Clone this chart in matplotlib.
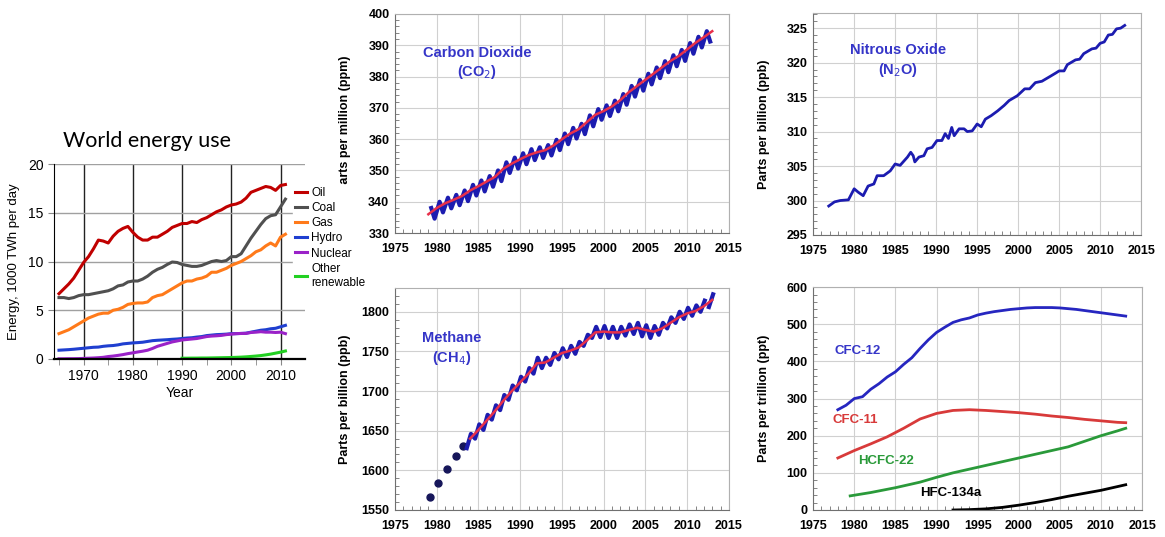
import numpy as np
import matplotlib
matplotlib.use('Agg')
import matplotlib.pyplot as plt
from matplotlib.ticker import MultipleLocator

plt.rcParams['font.family'] = ['Liberation Sans', 'DejaVu Sans']

# World energy use (1000 TWh per day), annual 1965-2011
energy_years = np.arange(1965, 2012)
oil = [6.7, 7.2, 7.7, 8.3, 9.1, 9.9, 10.5, 11.3, 12.2, 12.1, 11.9, 12.6, 13.1, 13.4, 13.6,
       13.0, 12.5, 12.2, 12.2, 12.5, 12.5, 12.8, 13.1, 13.5, 13.7, 13.9, 13.9, 14.1, 14.0, 14.3,
       14.5, 14.8, 15.1, 15.3, 15.6, 15.8, 15.9, 16.1, 16.5, 17.1, 17.3, 17.5, 17.7, 17.6, 17.3,
       17.8, 17.9]
coal = [6.3, 6.3, 6.2, 6.3, 6.5, 6.6, 6.6, 6.7, 6.8, 6.9, 7.0, 7.2, 7.5, 7.6, 7.9,
        8.0, 8.0, 8.2, 8.5, 8.9, 9.2, 9.4, 9.7, 9.95, 9.9, 9.7, 9.6, 9.5, 9.5, 9.6,
        9.8, 10.0, 10.1, 10.0, 10.1, 10.5, 10.5, 10.8, 11.6, 12.4, 13.1, 13.8, 14.4, 14.7, 14.8,
        15.6, 16.4]
gas = [2.6, 2.8, 3.0, 3.3, 3.6, 3.9, 4.2, 4.4, 4.6, 4.7, 4.7, 5.0, 5.1, 5.3, 5.6,
       5.7, 5.75, 5.75, 5.85, 6.3, 6.5, 6.6, 6.9, 7.2, 7.5, 7.8, 8.0, 8.0, 8.2, 8.3,
       8.5, 8.9, 8.9, 9.1, 9.3, 9.6, 9.8, 10.0, 10.3, 10.6, 11.0, 11.2, 11.6, 11.9, 11.6,
       12.5, 12.8]
hydro = [0.9, 0.93, 0.96, 1.0, 1.05, 1.1, 1.15, 1.2, 1.22, 1.3, 1.35, 1.38, 1.45, 1.55, 1.6,
         1.65, 1.68, 1.72, 1.8, 1.88, 1.92, 1.95, 1.98, 2.02, 2.05, 2.1, 2.15, 2.18, 2.25, 2.3,
         2.4, 2.45, 2.5, 2.52, 2.55, 2.6, 2.6, 2.62, 2.65, 2.75, 2.85, 2.95, 3.0, 3.1, 3.15,
         3.3, 3.45]
nuclear = [0.02, 0.02, 0.03, 0.03, 0.04, 0.06, 0.08, 0.1, 0.13, 0.17, 0.25, 0.3, 0.37, 0.45, 0.55,
           0.63, 0.72, 0.8, 0.9, 1.08, 1.3, 1.45, 1.6, 1.75, 1.85, 1.95, 2.0, 2.05, 2.1, 2.2,
           2.3, 2.35, 2.38, 2.42, 2.5, 2.55, 2.6, 2.62, 2.62, 2.72, 2.75, 2.8, 2.75, 2.75, 2.72,
           2.75, 2.6]
renew_years = np.arange(1990, 2012)
renewable = [0.08, 0.08, 0.09, 0.09, 0.1, 0.1, 0.11, 0.12, 0.13, 0.14, 0.15, 0.17, 0.19, 0.22,
             0.26, 0.3, 0.35, 0.42, 0.5, 0.6, 0.7, 0.82]

# CO2 (ppm): trend at start of each year, seasonal peaks/troughs
co2_years = np.arange(1979, 2014)
co2_trend = [336.0, 338.0, 339.5, 340.6, 341.8, 343.6, 345.0, 346.5, 348.0, 350.6, 352.2, 353.6,
             354.9, 355.8, 356.5, 358.0, 360.0, 361.8, 363.2, 365.5, 367.8, 369.0, 370.5, 372.5,
             375.0, 377.0, 379.0, 381.0, 383.0, 385.0, 386.6, 388.7, 390.8, 392.6, 394.5]
co2_peak = [338.0, 340.0, 341.3, 342.2, 343.6, 345.4, 346.8, 348.2, 350.0, 352.6, 354.1, 355.5,
            356.8, 357.4, 358.1, 359.8, 361.8, 363.6, 364.9, 367.6, 369.6, 370.8, 372.3, 374.4,
            377.0, 378.9, 380.9, 382.9, 384.9, 386.8, 388.5, 390.7, 392.7, 394.5]
co2_trough = [334.6, 336.6, 337.9, 338.9, 340.2, 342.0, 343.3, 344.8, 346.6, 349.2, 350.6, 352.0,
              353.3, 354.0, 354.8, 356.5, 358.4, 360.2, 361.6, 364.1, 366.2, 367.4, 368.9, 371.0,
              373.6, 375.5, 377.5, 379.5, 381.4, 383.3, 385.0, 387.3, 389.3, 391.2]

# N2O (ppb)
n2o_t = [1976.9, 1977.6, 1978.3, 1979.3, 1980.0, 1980.5, 1981.1, 1981.7, 1982.4, 1982.8, 1983.6,
         1984.4, 1985.0, 1985.6, 1986.5, 1986.9, 1987.2, 1987.4, 1987.9, 1988.5, 1988.9, 1989.5,
         1990.1, 1990.7, 1991.1, 1991.5, 1991.9, 1992.2, 1992.8, 1993.4, 1993.8, 1994.4, 1995.0,
         1995.5, 1996.0, 1996.7, 1997.5, 1998.3, 1998.9, 1999.9, 2000.8, 2001.4, 2002.1, 2002.9,
         2003.9, 2004.6, 2005.0, 2005.6, 2006.0, 2007.0, 2007.5, 2008.0, 2009.0, 2009.5, 2010.0,
         2010.5, 2011.0, 2011.5, 2012.0, 2012.5, 2013.0]
n2o = [299.2, 299.8, 300.0, 300.1, 301.7, 301.2, 300.7, 302.1, 302.4, 303.6, 303.6,
       304.3, 305.3, 305.1, 306.3, 307.0, 306.5, 305.6, 306.3, 306.5, 307.5, 307.7,
       308.7, 308.7, 309.7, 309.0, 310.6, 309.4, 310.4, 310.4, 310.0, 310.1, 311.1,
       310.7, 311.8, 312.3, 313.0, 313.8, 314.5, 315.2, 316.2, 316.2, 317.1, 317.3,
       318.0, 318.5, 318.8, 318.8, 319.7, 320.4, 320.5, 321.3, 322.0, 322.1, 322.8,
       323.0, 324.0, 324.1, 324.9, 325.0, 325.4]

# CH4 (ppb)
ch4_dot_t = [1979.2, 1980.2, 1981.2, 1982.3, 1983.2]
ch4_dots = [1566, 1584, 1602, 1618, 1631]
ch4_years = np.arange(1984, 2014)
ch4_trend = [1640, 1651, 1663, 1675, 1688, 1700, 1711, 1722, 1735, 1736, 1742, 1748, 1751, 1755,
             1764, 1774, 1775, 1774, 1774, 1777, 1780, 1777, 1775, 1779, 1786, 1793, 1798, 1801,
             1807, 1815]
ch4_peak = [1646, 1658, 1670, 1682, 1695, 1707, 1718, 1729, 1742, 1742, 1748, 1754, 1757, 1762,
            1771, 1781, 1782, 1781, 1781, 1784, 1786, 1783, 1782, 1786, 1793, 1800, 1805, 1808,
            1814, 1822]
ch4_trough = [1628, 1640, 1651, 1664, 1676, 1689, 1701, 1712, 1722, 1729, 1733, 1740, 1743, 1747,
              1757, 1767, 1768, 1767, 1767, 1770, 1772, 1769, 1767, 1771, 1779, 1786, 1791, 1795,
              1800, 1806]

# Halocarbons (ppt)
cfc12_t = [1978, 1979, 1980, 1981, 1982, 1983, 1984, 1985, 1986, 1987, 1988, 1989, 1990, 1991,
           1992, 1993, 1994, 1995, 1996, 1997, 1998, 1999, 2000, 2001, 2002, 2003, 2004, 2005,
           2006, 2007, 2008, 2009, 2010, 2011, 2012, 2013]
cfc12 = [270, 282, 300, 305, 325, 340, 358, 372, 392, 410, 435, 458, 478, 492, 505, 512, 517, 525,
         530, 534, 537, 540, 542, 544, 545, 545, 545, 544, 542, 540, 537, 534, 531, 528, 525, 522]
cfc11_t = [1978, 1980, 1982, 1984, 1986, 1988, 1990, 1992, 1994, 1996, 1998, 2000, 2002, 2004,
           2006, 2008, 2010, 2012, 2013]
cfc11 = [140, 160, 178, 197, 220, 245, 260, 268, 270, 268, 265, 262, 258, 253, 249, 244, 240, 236, 235]
hcfc22_t = [1979.5, 1982, 1985, 1988, 1990, 1992, 1994, 1996, 1998, 2000, 2002, 2004, 2006, 2008,
            2010, 2012, 2013]
hcfc22 = [38, 47, 60, 75, 88, 100, 110, 120, 130, 140, 150, 160, 170, 185, 200, 213, 220]
hfc134a_t = [1992, 1994, 1996, 1998, 2000, 2002, 2004, 2006, 2008, 2010, 2012, 2013]
hfc134a = [0, 1, 3, 7, 13, 20, 28, 37, 45, 53, 63, 68]

BLUE = '#1c1cb0'
RED = '#e8304a'
TITLE_BLUE = '#3535c8'


def noaa_style(ax, ylim, ymajor, yminor, ylabel):
    ax.set_xlim(1975, 2015)
    ax.set_ylim(*ylim)
    ax.xaxis.set_major_locator(MultipleLocator(5))
    ax.xaxis.set_minor_locator(MultipleLocator(1))
    ax.yaxis.set_major_locator(MultipleLocator(ymajor))
    ax.yaxis.set_minor_locator(MultipleLocator(yminor))
    ax.grid(True, which='major', color='#d0d0d0', lw=0.8)
    ax.set_axisbelow(True)
    for s in ax.spines.values():
        s.set_color('#b0b0b0')
    ax.spines['left'].set_color('#707070')
    ax.spines['bottom'].set_color('#707070')
    ax.tick_params(which='major', length=0, labelsize=9, pad=4)
    ax.tick_params(which='minor', direction='in', length=3, color='#707070')
    ax.tick_params(axis='x', pad=7)
    for lab in ax.get_xticklabels() + ax.get_yticklabels():
        lab.set_fontweight('bold')
    ax.set_ylabel(ylabel, fontsize=9, fontweight='bold')
    ax.yaxis.set_label_coords(-0.132, 0.5)


def panel_title(ax, x, y1, y2, line1, line2):
    ax.text(x, y1, line1, color=TITLE_BLUE, fontsize=10.5, fontweight='bold',
            ha='center', va='center')
    ax.text(x, y2, line2, color=TITLE_BLUE, fontsize=10.5, fontweight='bold',
            ha='center', va='center')


fig = plt.figure(figsize=(11.65, 5.37), dpi=100)

# CO2
ax_co2 = fig.add_axes([0.339, 0.566, 0.2867, 0.408])
ax_co2.plot(np.ravel(np.column_stack([co2_years[:-1] + 0.35, co2_years[:-1] + 0.75])),
            np.ravel(np.column_stack([co2_peak, co2_trough])), color=BLUE, lw=3)
ax_co2.plot(co2_years, co2_trend, color=RED, lw=1.8)
noaa_style(ax_co2, (330, 400), 10, 2, 'Parts per million (ppm)')
panel_title(ax_co2, 1984.8, 387.5, 381.5, 'Carbon Dioxide', '(CO$_2$)')

# N2O
ax_n2o = fig.add_axes([0.698, 0.5624, 0.2815, 0.4134])
ax_n2o.plot(n2o_t, n2o, color=BLUE, lw=2)
noaa_style(ax_n2o, (295, 327.2), 5, 1, 'Parts per billion (ppb)')
panel_title(ax_n2o, 1985.4, 321.8, 319.0, 'Nitrous Oxide', '(N$_2$O)')

# CH4
ax_ch4 = fig.add_axes([0.339, 0.0503, 0.2867, 0.4134])
ax_ch4.plot(ch4_dot_t, ch4_dots, 'o', color='#16165a', ms=5)
ax_ch4.plot(np.ravel(np.column_stack([ch4_years[:-1] - 0.4, ch4_years[:-1] + 0.1])),
            np.ravel(np.column_stack([ch4_trough[:-1], ch4_peak[:-1]])), color=BLUE, lw=3)
ax_ch4.plot([2012.6, 2013.1], [ch4_trough[-1], ch4_peak[-1]], color=BLUE, lw=3)
ax_ch4.plot(ch4_years, ch4_trend, color=RED, lw=1.8)
noaa_style(ax_ch4, (1550, 1830), 50, 10, 'Parts per billion (ppb)')
panel_title(ax_ch4, 1981.8, 1767, 1742, 'Methane', '(CH$_4$)')

# Halocarbons
ax_hal = fig.add_axes([0.698, 0.0503, 0.2824, 0.415])
ax_hal.plot(cfc12_t, cfc12, color='#2626c0', lw=2)
ax_hal.plot(cfc11_t, cfc11, color='#d83a3a', lw=2)
ax_hal.plot(hcfc22_t, hcfc22, color='#2a9a3a', lw=2)
ax_hal.plot(hfc134a_t, hfc134a, color='black', lw=2)
noaa_style(ax_hal, (0, 600), 100, 20, 'Parts per trillion (ppt)')
ax_hal.text(1977.6, 428, 'CFC-12', color='#3535c8', fontsize=9.5, fontweight='bold', va='center')
ax_hal.text(1977.4, 242, 'CFC-11', color='#d83a3a', fontsize=9.5, fontweight='bold', va='center')
ax_hal.text(1980.5, 132, 'HCFC-22', color='#2a9a3a', fontsize=9.5, fontweight='bold', va='center')
ax_hal.text(1988.0, 46, 'HFC-134a', color='black', fontsize=9.5, fontweight='bold', va='center')

# World energy use (drawn last so its legend sits on top)
ax_e = fig.add_axes([0.0464, 0.3315, 0.2155, 0.363])
ax_e.plot(energy_years, oil, color='#c00000', lw=2.2, label='Oil')
ax_e.plot(energy_years, coal, color='#505050', lw=2.2, label='Coal')
ax_e.plot(energy_years, gas, color='#ff7a1a', lw=2.2, label='Gas')
ax_e.plot(energy_years, hydro, color='#1f3fd0', lw=2.2, label='Hydro')
ax_e.plot(energy_years, nuclear, color='#9a22c8', lw=2.2, label='Nuclear')
ax_e.plot(renew_years, renewable, color='#22d022', lw=2.2, label='Other\nrenewable')
ax_e.set_xlim(1964, 2015)
ax_e.set_ylim(0, 20)
ax_e.set_xticks([1970, 1980, 1990, 2000, 2010])
ax_e.set_xticks([1965, 1975, 1985, 1995, 2005], minor=True)
ax_e.set_yticks([0, 5, 10, 15, 20])
for x in [1970, 1980, 1990, 2000, 2010]:
    ax_e.axvline(x, color='#222222', lw=1, zorder=0)
for y in [5, 10, 15, 20]:
    ax_e.axhline(y, color='#a0a0a0', lw=1, zorder=0)
ax_e.spines['top'].set_visible(False)
ax_e.spines['right'].set_visible(False)
ax_e.spines['bottom'].set_linewidth(1.6)
ax_e.tick_params(which='both', length=4, color='#888888', labelsize=10)
ax_e.set_xlabel('Year', fontsize=10, labelpad=2)
ax_e.set_ylabel('Energy, 1000 TWh per day', fontsize=9.5, labelpad=6)
ax_e.set_title('World energy use', fontsize=15.5, family=['Lato', 'DejaVu Sans'],
               loc='left', x=0.035, pad=12)
leg = fig.legend(*ax_e.get_legend_handles_labels(), loc='upper left',
                 bbox_to_anchor=(0.2515, 1 - 185 / 537), fontsize=8.5, frameon=True,
                 handlelength=1.05, handletextpad=0.35, labelspacing=0.27, borderpad=0.15,
                 borderaxespad=0)
leg.get_frame().set_edgecolor('white')
leg.get_frame().set_facecolor('white')
leg.get_frame().set_alpha(1)

fig.savefig('out.png', dpi=100)
